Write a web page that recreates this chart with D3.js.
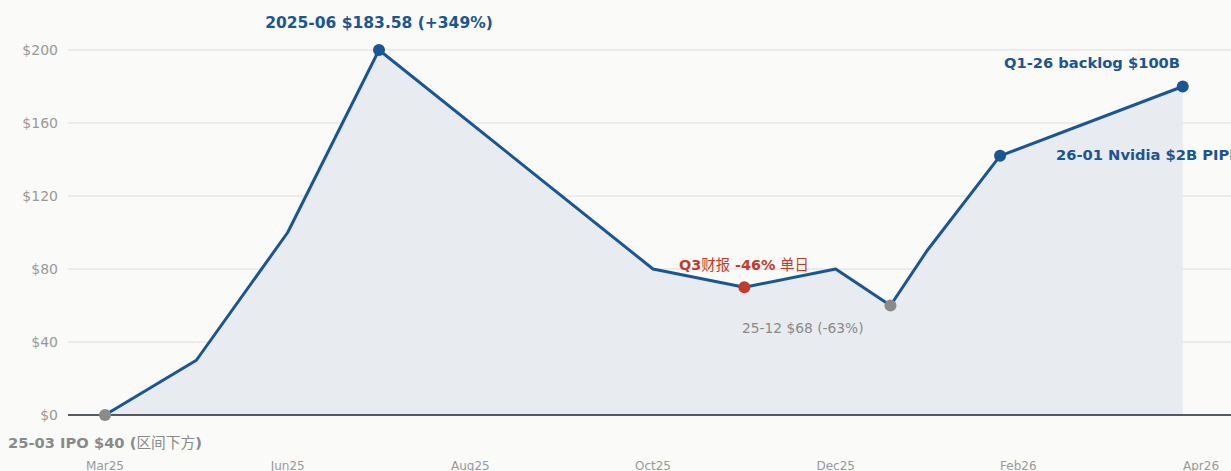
<!DOCTYPE html>
<html>
<head>
<meta charset="utf-8">
<script src="https://cdn.jsdelivr.net/npm/d3@7"></script>
<style>
  html, body { margin: 0; padding: 0; background: #fafaf8; overflow: hidden; }
  text { font-family: "DejaVu Sans", "Noto Sans CJK SC", sans-serif; }
</style>
</head>
<body>
<div id="chart"></div>
<script>
// position along the x axis (half-tick steps) and the plotted value
let xPos = [0, 1, 2, 3, 6, 7, 8, 8.6, 9, 9.8, 11.8];
let values = [0, 30, 100, 200, 80, 70, 80, 60, 90, 142, 180];
let tickPos = [0, 2, 4, 6, 8, 10, 12];
let tickLabels = ['Mar25', 'Jun25', 'Aug25', 'Oct25', 'Dec25', 'Feb26', 'Apr26'];
let yTicks = [0, 40, 80, 120, 160, 200];

// highlighted points: index into the series, colour key
let markers = [
    {i: 0, kind: 'gray'},
    {i: 3, kind: 'blue'},
    {i: 5, kind: 'red'},
    {i: 7, kind: 'gray'},
    {i: 9, kind: 'blue'},
    {i: 10, kind: 'blue'}
];

let width = 1231;
let height = 471;
let colors = {blue: '#1b5593', red: '#c43b2d', gray: '#8a8a8a'};

let svg = d3.select('#chart').append('svg')
    .attr('width', width)
    .attr('height', height);

let x = d3.scaleLinear().domain([0, 12]).range([105, 1201]);
let y = d3.scaleLinear().domain([0, 200]).range([415, 50]);

let data = xPos.map((d, i) => ({x: d, v: values[i]}));

//Grid
svg.append('g')
    .selectAll('line')
    .data(yTicks.filter(d => d > 0))
    .enter()
    .append('line')
    .attr('x1', 68)
    .attr('x2', width)
    .attr('y1', d => y(d))
    .attr('y2', d => y(d))
    .style('stroke', '#dedede')
    .style('stroke-width', 1);

//Y labels
svg.append('g')
    .selectAll('text')
    .data(yTicks)
    .enter()
    .append('text')
    .attr('x', 58)
    .attr('y', d => y(d))
    .attr('dy', '0.35em')
    .attr('text-anchor', 'end')
    .style('font-size', '14px')
    .style('fill', '#999')
    .text(d => '$' + d);

//Area
let area = d3.area()
    .x(d => x(d.x))
    .y0(y(0))
    .y1(d => y(d.v));

svg.append('path')
    .datum(data)
    .attr('d', area)
    .style('fill', '#e8ebef');

//Baseline
svg.append('line')
    .attr('x1', 68)
    .attr('x2', width)
    .attr('y1', y(0))
    .attr('y2', y(0))
    .style('stroke', '#1f2630')
    .style('stroke-width', 1.6);

//Line
let line = d3.line()
    .x(d => x(d.x))
    .y(d => y(d.v));

svg.append('path')
    .datum(data)
    .attr('d', line)
    .style('fill', 'none')
    .style('stroke', colors.blue)
    .style('stroke-width', 3)
    .style('stroke-linejoin', 'round');

//Markers
svg.append('g')
    .selectAll('circle')
    .data(markers)
    .enter()
    .append('circle')
    .attr('cx', d => x(xPos[d.i]))
    .attr('cy', d => y(values[d.i]))
    .attr('r', 6)
    .style('fill', d => colors[d.kind]);

//X labels
svg.append('g')
    .selectAll('text')
    .data(tickPos)
    .enter()
    .append('text')
    .attr('x', d => x(d))
    .attr('y', 470)
    .attr('text-anchor', 'middle')
    .style('font-size', '12px')
    .style('fill', '#999')
    .text((d, i) => tickLabels[i]);

//Annotations
function note(px, py, anchor, color, parts) {
    let t = svg.append('text')
        .attr('x', px)
        .attr('y', py)
        .attr('text-anchor', anchor)
        .style('fill', color);
    parts.forEach(p => {
        t.append('tspan')
            .style('font-size', p.size + 'px')
            .style('font-weight', p.bold ? 'bold' : 'normal')
            .text(p.text);
    });
}

note(379, 28, 'middle', colors.blue, [{text: '2025-06 $183.58 (+349%)', size: 15.5, bold: true}]);
note(1092, 68, 'middle', colors.blue, [{text: 'Q1-26 backlog $100B', size: 14.7, bold: true}]);
note(1056, 160, 'start', colors.blue, [{text: '26-01 Nvidia $2B PIPE', size: 14.7, bold: true}]);
note(679, 270, 'start', colors.red, [
    {text: 'Q3', size: 14.4, bold: true},
    {text: '财报', size: 14.4, bold: false},
    {text: ' -46%', size: 14.4, bold: true},
    {text: ' 单日', size: 14.4, bold: false}
]);
note(742, 333, 'start', colors.gray, [{text: '25-12 $68 (-63%)', size: 13.8, bold: false}]);
note(8, 448, 'start', colors.gray, [
    {text: '25-03 IPO $40 (', size: 14.7, bold: true},
    {text: '区间下方', size: 14.7, bold: false},
    {text: ')', size: 14.7, bold: true}
]);
</script>
</body>
</html>
